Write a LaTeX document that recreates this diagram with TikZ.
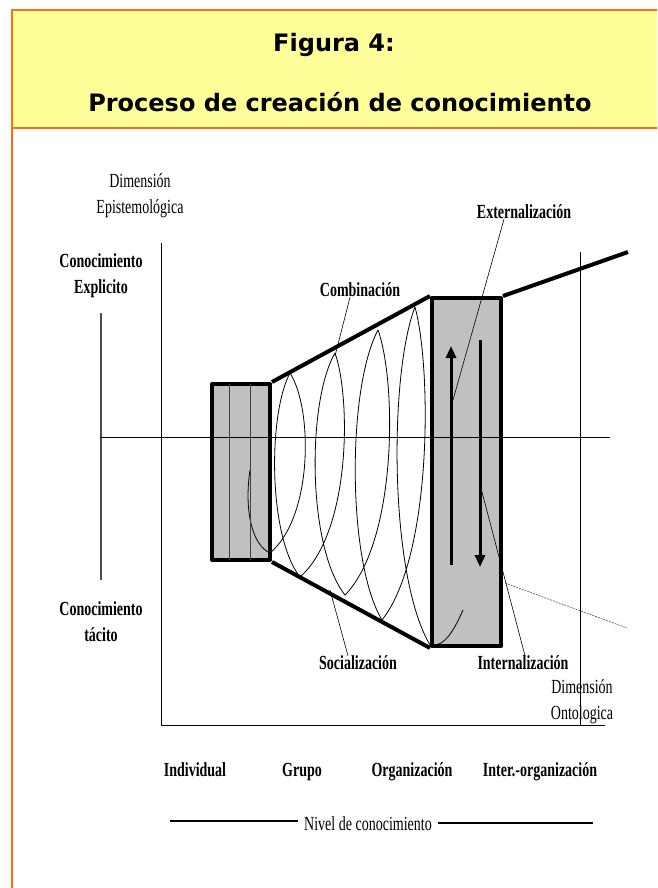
\documentclass[tikz,border=0pt]{standalone}
\usepackage{fontspec}
\usepackage{tikz}
\usetikzlibrary{arrows.meta}
\usetikzlibrary{positioning}
\newfontfamily\titlefont{DejaVu Sans}
\newfontfamily\figfont[FakeStretch=0.7]{Liberation Serif}
\definecolor{frameorange}{RGB}{250,110,20}
\definecolor{headyellow}{RGB}{255,255,153}
\definecolor{boxgray}{RGB}{192,192,192}
\tikzstyle{title} =
[
	inner sep=0pt, font=\titlefont\bfseries\fontsize{24}{28}\selectfont
]
\tikzstyle{lbl} =
[
	inner sep=0pt, align=center,
	font=\figfont\bfseries\fontsize{20}{26}\selectfont
]
\tikzstyle{lblthin} =
[
	inner sep=0pt, align=center,
	font=\figfont\fontsize{20}{26}\selectfont
]
\tikzstyle{stage} =
[
	draw,rectangle,line width=4pt,fill=boxgray,inner sep=0pt
]
\tikzstyle{spiral} = [line width=0.8pt]
\tikzstyle{leader} = [line width=0.6pt]

\begin{document}
\begin{tikzpicture}[x=1pt,y=-1pt,line join=round]
\useasboundingbox (0,0) rectangle (657,888);
\clip (0,0) rectangle (657,888);

% header
\fill[headyellow] (12,10) rectangle (670,128);
\draw[frameorange, line width=2.5pt] (670,10) -- (12,10) -- (12,900);
\draw[frameorange, line width=2.5pt] (12,128) -- (670,128);
\node[title] (fig) at (334,45) {Figura 4:};
\node[title] (proc) at (340,102) {Proceso de creación de conocimiento};

% axes
\draw[line width=1pt] (161,243) -- (161,725) -- (605,725);
\draw[line width=1pt] (580,252) -- (580,725);
\draw[line width=1.2pt, black!70] (101,313) -- (101,580);

% spiral
\coordinate (b0) at (270,553);
\coordinate (t1) at (290,373);
\coordinate (b1) at (300,577);
\coordinate (t2) at (335,353);
\coordinate (b2) at (345,595);
\coordinate (t3) at (378,330);
\coordinate (b3) at (382,620);
\coordinate (t4) at (415,307);
\coordinate (b4) at (430,645);
\draw[spiral] (b0) .. controls (313,517) and (313,409) .. (t1)
	.. controls (268,414) and (268,536) .. (b1)
	.. controls (351,532) and (351,398) .. (t2)
	.. controls (307,401) and (307,547) .. (b2)
	.. controls (397,542) and (397,383) .. (t3)
	.. controls (347,388) and (347,562) .. (b3)
	.. controls (432,557) and (432,370) .. (t4)
	.. controls (389,374) and (389,576) .. (b4);

% stages
\node[stage, minimum width=58pt, minimum height=176pt] (indiv) at (241,472) {};
\node[stage, minimum width=69pt, minimum height=348pt] (org) at (466.5,472) {};
\draw[spiral] (250,470) .. controls (244,510) and (252,545) .. (b0);
\draw[line width=0.8pt, black!75] (229,384) -- (229,560);
\draw[line width=0.8pt, black!75] (250,384) -- (250,560);
\draw[spiral] (b4) .. controls (445,648) and (455,628) .. (463,610);

% cone
\draw[line width=4pt] (indiv.north east) -- (org.north west);
\draw[line width=4pt] (indiv.south east) -- (org.south west);
\coordinate (ext) at (628,252);
\draw[line width=4pt] (org.north east) -- (ext);
\coordinate (dsh1) at (505,583);
\coordinate (dsh2) at (627,628);
\draw[black!60, line width=0.7pt, dash pattern=on 2pt off 1pt] (dsh1) -- (dsh2);

% middle axis
\draw[line width=1pt] (100,437) -- (610,437);

% flows
\draw[line width=3pt, -{Triangle[length=12pt,width=10pt]}] (451,565) -- (451,346);
\draw[line width=3pt, -{Triangle[length=12pt,width=10pt]}] (480,340) -- (480,567);

% labels
\node[lblthin] (epis) at (140,196) {Dimensión\\Epistemológica};
\node[lbl] (expl) at (101,276) {Conocimiento\\Explicito};
\node[lbl] (taci) at (101,622) {Conocimiento\\tácito};
\node[lbl] (comb) at (360,290) {Combinación};
\node[lbl] (exte) at (524,212) {Externalización};
\node[lbl] (soci) at (358,663) {Socialización};
\node[lbl] (inte) at (523,663) {Internalización};
\node[lblthin] (onto) at (582,702) {Dimensión\\Ontologica};

\draw[leader] ([xshift=-10pt]comb.south) -- (335,356);
\draw[leader] ([xshift=-10pt]soci.north) -- (330,590);
\draw[leader] ([xshift=-20pt]exte.south) -- (453,400);
\draw[leader] ([xshift=2pt]inte.north) -- (482,492);

% levels
\node[lbl, anchor=base] (l1) at (195,776) {Individual};
\node[lbl, anchor=base] (l2) at (302,776) {Grupo};
\node[lbl, anchor=base] (l3) at (412,776) {Organización};
\node[lbl, anchor=base] (l4) at (540,776) {Inter.-organización};
\node[lblthin, anchor=base] (nivel) at (368,830) {Nivel de conocimiento};
\draw[line width=1.5pt] (170,821) -- ([xshift=-6pt]nivel.west |- 0,821);
\draw[line width=1.5pt] ([xshift=6pt]nivel.east |- 0,823) -- (593,823);

\end{tikzpicture}
\end{document}
